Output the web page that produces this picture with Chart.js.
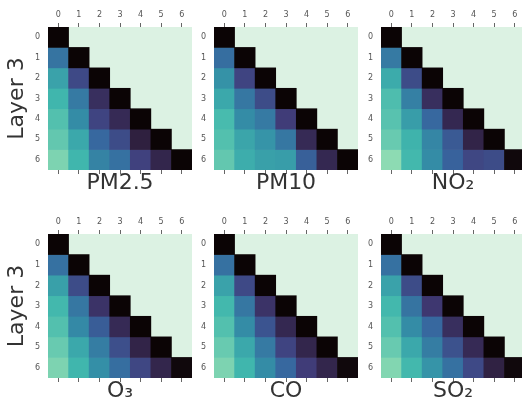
<!DOCTYPE html>
<html><head><meta charset="utf-8">
<script src="https://cdn.jsdelivr.net/npm/chart.js@4/dist/chart.umd.min.js"></script>
<style>
html,body{margin:0;padding:0;background:#fff;overflow:hidden;width:522px;height:404px;position:relative;}
canvas{position:absolute;}
</style></head><body>
<canvas id="c0"></canvas><canvas id="c1"></canvas><canvas id="c2"></canvas>
<canvas id="c3"></canvas><canvas id="c4"></canvas><canvas id="c5"></canvas>
<script>
// ---- data ----
const tickLabels = ['0','1','2','3','4','5','6'];
const titles = ['PM2.5','PM10','NO₂','O₃','CO','SO₂'];
const yTitle = 'Layer 3';
const pm25 = [[0],[0.48,0],[0.64,0.33,0],[0.71,0.50,0.22,0],[0.75,0.56,0.31,0.20,0],[0.78,0.66,0.44,0.34,0.15,0],[0.83,0.71,0.53,0.47,0.30,0.18,0]];
const pm10 = [[0],[0.46,0],[0.58,0.31,0],[0.66,0.49,0.34,0],[0.73,0.56,0.50,0.28,0],[0.75,0.65,0.59,0.49,0.20,0],[0.78,0.68,0.63,0.62,0.41,0.19,0]];
const no2  = [[0],[0.50,0],[0.67,0.34,0],[0.74,0.52,0.22,0],[0.76,0.62,0.44,0.19,0],[0.79,0.70,0.54,0.39,0.17,0],[0.86,0.72,0.56,0.42,0.32,0.34,0.02]];
const o3   = [[0],[0.47,0],[0.63,0.34,0],[0.72,0.49,0.24,0],[0.75,0.55,0.40,0.20,0],[0.79,0.66,0.51,0.35,0.17,0],[0.83,0.71,0.57,0.46,0.32,0.18,0.02]];
const co   = [[0],[0.47,0],[0.64,0.33,0],[0.72,0.49,0.24,0],[0.75,0.56,0.37,0.19,0],[0.79,0.66,0.50,0.31,0.18,0],[0.83,0.71,0.56,0.44,0.28,0.18,0.02]];
const so2  = [[0],[0.47,0],[0.64,0.34,0],[0.72,0.48,0.26,0],[0.75,0.56,0.44,0.22,0],[0.79,0.66,0.51,0.36,0.20,0],[0.84,0.72,0.59,0.47,0.33,0.16,0.02]];
const allValues = [pm25, pm10, no2, o3, co, so2];

// ---- colormap (mako) ----
const MAKO = [[0,'#0b0405'],[0.071,'#1c111f'],[0.143,'#2e1e3c'],[0.286,'#413d7b'],[0.429,'#37659e'],[0.571,'#348fa7'],[0.714,'#40b7ad'],[0.857,'#8bdab2'],[1,'#def5e5']];
function hex2rgb(h){return [parseInt(h.slice(1,3),16),parseInt(h.slice(3,5),16),parseInt(h.slice(5,7),16)];}
function mako(v){
  v=Math.max(0,Math.min(1,v));
  for(let i=1;i<MAKO.length;i++){
    if(v<=MAKO[i][0]){
      const [p0,c0]=MAKO[i-1],[p1,c1]=MAKO[i];
      const t=(v-p0)/(p1-p0),a=hex2rgb(c0),b=hex2rgb(c1);
      return 'rgb('+a.map((x,k)=>Math.round(x+(b[k]-x)*t)).join(',')+')';
    }
  }
  return MAKO[MAKO.length-1][1];
}

// ---- layout ----
Chart.defaults.font.family = 'DejaVu Sans';
const layout = [
  {left:0,   top:0,   lw:48, cw:144, th:27, ch:143, bh:26, ylab:true},
  {left:192, top:0,   lw:22, cw:144, th:27, ch:143, bh:26, ylab:false},
  {left:358, top:0,   lw:23, cw:144, th:27, ch:143, bh:26, ylab:false},
  {left:0,   top:207, lw:48, cw:144, th:27, ch:144, bh:26, ylab:true},
  {left:192, top:207, lw:22, cw:144, th:27, ch:144, bh:26, ylab:false},
  {left:358, top:207, lw:23, cw:144, th:27, ch:144, bh:26, ylab:false}
];
const bgPlugin = {id:'bg', beforeDraw(chart){
  const a=chart.chartArea, c=chart.ctx;
  c.save(); c.fillStyle='#dcf2e3'; c.fillRect(a.left,a.top,a.right-a.left,a.bottom-a.top); c.restore();
}};
const tickFont = {size:8, family:'DejaVu Sans'};
const titleFont = {size:22, family:'DejaVu Sans'};

layout.forEach((p,pi)=>{
  const el=document.getElementById('c'+pi);
  el.width=p.lw+p.cw; el.height=p.th+p.ch+p.bh;
  el.style.left=p.left+'px'; el.style.top=p.top+'px';
  const vals=allValues[pi];
  const datasets=tickLabels.map((r,ri)=>({
    label:'row '+r,
    data:tickLabels.map((c,ci)=>ci<=ri?[ri,ri+1]:null),
    backgroundColor:tickLabels.map((c,ci)=>ci<=ri?mako(vals[ri][ci]):'rgba(0,0,0,0)'),
    xAxisID:'x', yAxisID:'y', grouped:false, barPercentage:1, categoryPercentage:1,
    borderWidth:0, borderSkipped:false
  }));
  const tickGrid = {display:true, drawOnChartArea:false, drawTicks:true, tickLength:4, color:'#666', lineWidth:1, offset:false};
  new Chart(el,{
    type:'bar',
    data:{labels:tickLabels, datasets},
    options:{
      responsive:false, animation:false, events:[],
      layout:{padding:0},
      plugins:{legend:{display:false}, tooltip:{enabled:false}},
      scales:{
        x:{type:'category', position:'top', offset:true, grid:tickGrid, border:{display:false},
           ticks:{font:tickFont, color:'#555', padding:3, maxRotation:0, autoSkip:false},
           afterFit:s=>{s.height=p.th;}},
        x2:{type:'category', position:'bottom', offset:true, grid:tickGrid, border:{display:false},
           ticks:{display:false},
           title:{display:true, text:titles[pi], font:titleFont, color:'#333', padding:0},
           afterFit:s=>{s.height=p.bh;}},
        y:{type:'linear', position:'left', reverse:true, min:0, max:7,
           grid:{display:false, drawTicks:false}, border:{display:false},
           afterBuildTicks:s=>{s.ticks=tickLabels.map((t,i)=>({value:i+0.5}));},
           ticks:{font:tickFont, color:'#555', padding:8, autoSkip:false,
                  callback:(v)=>tickLabels[Math.round(v-0.5)]},
           title:{display:p.ylab, text:yTitle, font:titleFont, color:'#333', padding:{top:4,bottom:0}},
           afterFit:s=>{s.width=p.lw;}}
      }
    },
    plugins:[bgPlugin]
  });
});
</script>
</body></html>
